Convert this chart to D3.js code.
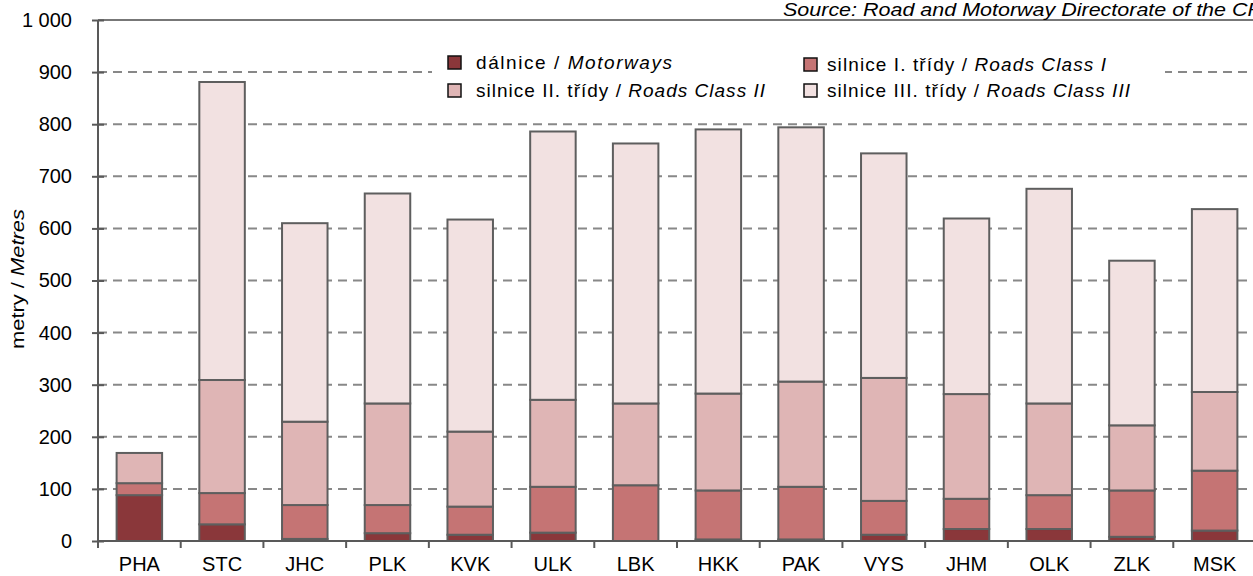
<!DOCTYPE html>
<html lang="en">
<head>
    <meta charset="utf-8">
    <script src="https://d3js.org/d3.v7.min.js"></script>
    <style>
        body { margin: 0; background: #fff; }
        text { font-family: Arial, "Liberation Sans", sans-serif; fill: #000; }
    </style>
</head>
<body>
    <script type="text/javascript">

        let w = 1253;
        let h = 576;

        // data (metres per km2, by region)
        let categories = ["PHA", "STC", "JHC", "PLK", "KVK", "ULK", "LBK", "HKK", "PAK", "VYS", "JHM", "OLK", "ZLK", "MSK"];
        let motorways = [88, 32, 4, 15, 12, 16, 0, 3, 3, 12, 23, 23, 8, 20];
        let class1 = [23, 60, 65, 54, 54, 88, 107, 94, 101, 65, 58, 65, 89, 115];
        let class2 = [58, 217, 160, 195, 144, 167, 157, 186, 202, 236, 201, 176, 125, 151];
        let class3 = [0, 572, 381, 403, 407, 515, 499, 507, 488, 431, 337, 412, 316, 351];
        let yTicks = [0, 100, 200, 300, 400, 500, 600, 700, 800, 900, 1000];

        let seriesNames = ["motorways", "class1", "class2", "class3"];
        let colors = ["#8a373a", "#c57474", "#dfb5b5", "#f2e1e1"];
        let legendTexts = [
            ["dálnice / ", "Motorways"],
            ["silnice I. třídy / ", "Roads Class I"],
            ["silnice II. třídy / ", "Roads Class II"],
            ["silnice III. třídy / ", "Roads Class III"]
        ];

        let rows = categories.map(function(c, i) {
            return {cat: c, motorways: motorways[i], class1: class1[i], class2: class2[i], class3: class3[i]};
        });

        let svg = d3.select("body").append("svg")
                    .attr("width", w)
                    .attr("height", h);

        let pLeft = 98, pRight = 1256, pTop = 20, pBottom = 541;

        let x = d3.scaleBand()
                  .domain(categories)
                  .range([pLeft, pRight])
                  .paddingInner(0.45)
                  .paddingOuter(0.225);

        let y = d3.scaleLinear()
                  .domain([0, 1000])
                  .range([pBottom, pTop]);

        // gridlines
        svg.append("g")
            .selectAll("line")
            .data(yTicks.filter(function(d){ return d > 0 && d < 1000; }))
            .join("line")
                .attr("x1", pLeft)
                .attr("x2", pRight)
                .attr("y1", function(d){ return y(d); })
                .attr("y2", function(d){ return y(d); })
                .attr("stroke", "#888")
                .attr("stroke-width", 2)
                .attr("stroke-dasharray", "9,6");

        // plot area top border
        svg.append("line")
            .attr("x1", pLeft).attr("x2", pRight)
            .attr("y1", y(1000)).attr("y2", y(1000))
            .attr("stroke", "#777")
            .attr("stroke-width", 2);

        // legend box hides the grid underneath
        svg.append("rect")
            .attr("x", 432).attr("y", 44)
            .attr("width", 733).attr("height", 62)
            .attr("fill", "#fff");

        // stacked bars
        let stack = d3.stack().keys(seriesNames);
        let layers = stack(rows);

        svg.append("g")
            .selectAll("g")
            .data(layers)
            .join("g")
                .attr("fill", function(d, i){ return colors[i]; })
            .selectAll("rect")
            .data(function(d){ return d.filter(function(s){ return s[1] - s[0] > 0; }); })
            .join("rect")
                .attr("x", function(d){ return x(d.data.cat); })
                .attr("y", function(d){ return y(d[1]); })
                .attr("width", x.bandwidth())
                .attr("height", function(d){ return y(d[0]) - y(d[1]); })
                .attr("stroke", "#5e5e5e")
                .attr("stroke-width", 2);

        // y axis
        let yAxis = svg.append("g")
            .attr("transform", "translate(" + pLeft + ",0)")
            .call(d3.axisLeft(y).tickValues(yTicks).tickSize(6).tickPadding(20)
                .tickFormat(function(d){ return d === 1000 ? "1\u00a0000" : d; }));
        yAxis.select(".domain").remove();
        yAxis.append("line")
            .attr("x1", 0).attr("x2", 0)
            .attr("y1", pTop).attr("y2", pBottom + 6)
            .attr("stroke", "#595959").attr("stroke-width", 2);
        yAxis.selectAll(".tick line").attr("stroke", "#595959").attr("stroke-width", 2).attr("x2", 6).attr("x1", -6);
        yAxis.selectAll(".tick text")
            .attr("font-size", 20)
            .attr("font-family", "Arial, 'Liberation Sans', sans-serif")
            .attr("fill", "#000")
            .attr("x", -26);

        // x axis
        let xAxis = svg.append("g")
            .attr("transform", "translate(0," + pBottom + ")")
            .call(d3.axisBottom(x).tickSize(0).tickPadding(16));
        xAxis.select(".domain").remove();
        xAxis.append("line")
            .attr("x1", pLeft).attr("x2", pRight)
            .attr("y1", 0).attr("y2", 0)
            .attr("stroke", "#595959").attr("stroke-width", 2);
        xAxis.selectAll(".sep")
            .data(d3.range(categories.length + 1))
            .join("line")
                .attr("class", "sep")
                .attr("x1", function(i){ return pLeft + i * x.step(); })
                .attr("x2", function(i){ return pLeft + i * x.step(); })
                .attr("y1", 0).attr("y2", 7)
                .attr("stroke", "#595959").attr("stroke-width", 2);
        xAxis.selectAll(".tick text")
            .attr("font-size", 20)
            .attr("font-family", "Arial, 'Liberation Sans', sans-serif")
            .attr("fill", "#000")
            .attr("dy", "0.71em");

        // y axis title
        let yTitle = svg.append("text")
            .attr("transform", "translate(24,279) rotate(-90)")
            .attr("text-anchor", "middle")
            .attr("font-size", 18)
            .attr("textLength", 140)
            .attr("lengthAdjust", "spacingAndGlyphs");
        yTitle.append("tspan").text("metry / ");
        yTitle.append("tspan").attr("font-style", "italic").text("Metres");

        // legend
        let legendPos = [[448, 63], [804, 65], [448, 91], [804, 91]];
        let legendLen = [196, 279, 289, 303];
        let lg = svg.append("g")
            .selectAll("g")
            .data(legendTexts)
            .join("g")
                .attr("transform", function(d, i){ return "translate(" + legendPos[i][0] + "," + legendPos[i][1] + ")"; });
        lg.append("rect")
            .attr("x", 0).attr("y", -7)
            .attr("width", 13).attr("height", 13)
            .attr("fill", function(d, i){ return colors[i]; })
            .attr("stroke", "#111")
            .attr("stroke-width", 1.5);
        let lt = lg.append("text")
            .attr("x", function(d, i){ return i % 2 === 0 ? 28 : 23; })
            .attr("y", 6)
            .attr("font-size", 19)
            .attr("textLength", function(d, i){ return legendLen[i]; })
            .attr("lengthAdjust", "spacing");
        lt.append("tspan").text(function(d){ return d[0]; });
        lt.append("tspan").attr("font-style", "italic").text(function(d){ return d[1]; });

        // source note
        svg.append("text")
            .attr("x", 783)
            .attr("y", 16)
            .attr("font-size", 18)
            .attr("font-style", "italic")
            .attr("font-family", "'Liberation Sans Narrow', Arial, sans-serif")
            .attr("textLength", 480)
            .attr("lengthAdjust", "spacingAndGlyphs")
            .text("Source: Road and Motorway Directorate of the CR");

    </script>
</body>
</html>
